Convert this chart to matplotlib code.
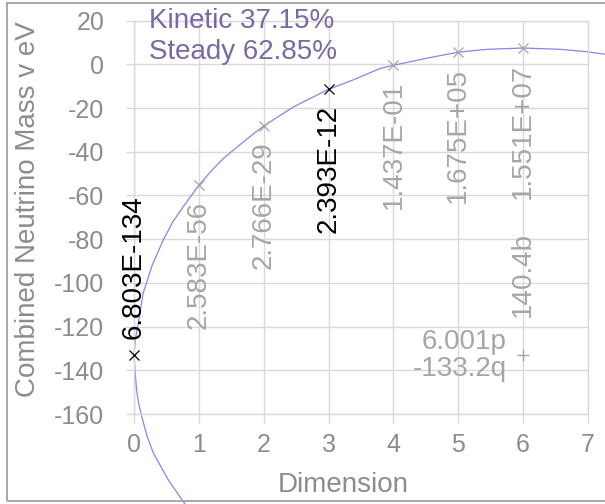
import matplotlib
matplotlib.use("Agg")
import matplotlib.pyplot as plt
from matplotlib.patches import Rectangle

plt.rcParams['font.family'] = ['Liberation Sans', 'DejaVu Sans']
plt.rcParams['axes.unicode_minus'] = False

# ---- data ----
dimension = [0, 1, 2, 3, 4, 5, 6]
mass = [-133.2, -55.3, -28.2, -11.4, -0.4, 5.5, 7.4]
point_labels = ["6.803E-134", "2.583E-56", "2.766E-29", "2.393E-12",
                "1.437E-01", "1.675E+05", "1.551E+07"]
highlight = [True, False, False, True, False, False, False]

# trend curve
curve_x = [0.78, 0.53, 0.30, 0.20, 0.12, 0.07, 0.04, 0.015, 0.0, 0.02, 0.066,
           0.14, 0.28, 0.45, 0.60, 0.76, 1.0, 1.2, 1.38, 1.59, 1.79, 2.0,
           2.46, 3.0, 3.38, 3.8, 4.0, 4.51, 5.0, 5.44, 6.0, 6.57, 6.98, 7.3]
curve_y = [-201, -190.2, -178, -170, -161.2, -155, -149, -140, -133, -126,
           -118.5, -104.8, -92, -80.4, -72, -65.1, -55.3, -48.5, -43, -37.8,
           -33, -28.2, -19.4, -11.4, -7.1, -1.8, -0.4, 2.8, 5.6, 6.9, 7.5,
           6.9, 5.8, 4.5]

extra_x = 6
extra_y = -133.2
extra_side = "6.001p\n-133.2q"
extra_top = "140.4b"

legend_text = "Kinetic 37.15%\nSteady 62.85%"

xticks = [0, 1, 2, 3, 4, 5, 6, 7]
yticks = [20, 0, -20, -40, -60, -80, -100, -120, -140, -160]

# ---- styling ----
GRID = '#D9D9D9'
TICK = '#8C8C8C'
LABEL_GRAY = '#A6A6A6'
PURPLE = '#7B68A6'
CURVE = '#8A84E6'

W, H = 605, 504
fig = plt.figure(figsize=(W / 100, H / 100), dpi=100)
ax = fig.add_axes([134 / W, 1 - 414 / H, (588 - 134) / W, (414 - 20.7) / H])

ax.set_xlim(0, 7)
ax.set_ylim(-160, 20)
ax.set_xticks(xticks)
ax.set_yticks(yticks)
ax.grid(True, color=GRID, linewidth=1.0)
ax.set_axisbelow(True)
for s in ax.spines.values():
    s.set_color(GRID)
    s.set_linewidth(1.0)

ax.tick_params(axis='x', colors=GRID, labelcolor=TICK, labelsize=18,
               length=6.5, width=1.0, pad=7, direction='out')
ax.tick_params(axis='y', colors=GRID, labelcolor=TICK, labelsize=18,
               length=6, width=1.0, pad=15.5, direction='out')

ax.set_xlabel("Dimension", fontsize=20, color=TICK)
ax.xaxis.set_label_coords(0.46, -0.148)
ax.set_ylabel("Combined Neutrino Mass v eV", fontsize=20, color=TICK)
ax.yaxis.set_label_coords(-0.205, 0.52)

# curve
ax.plot(curve_x, curve_y, color=CURVE, linewidth=0.9, clip_on=False, zorder=2)

# markers and labels
for x, y, lab, hl in zip(dimension, mass, point_labels, highlight):
    col = 'black' if hl else LABEL_GRAY
    ax.plot([x], [y], marker='x', color=col, markersize=7.5,
            markeredgewidth=0.9, linestyle='none', zorder=3, clip_on=False)
    if x == 0:
        ax.annotate(lab, (x, y), xytext=(0, 12), textcoords='offset points',
                    rotation=90, ha='center', va='bottom', fontsize=20,
                    color=col, zorder=4)
    else:
        ax.annotate(lab, (x, y), xytext=(0, -11), textcoords='offset points',
                    rotation=90, ha='center', va='top', fontsize=20,
                    color=col, zorder=4)

# extra point
ax.plot([extra_x], [extra_y], marker='+', color=LABEL_GRAY, markersize=8,
        markeredgewidth=1.0, linestyle='none', zorder=3)
ax.annotate(extra_side, (extra_x, extra_y), xytext=(-12, 0),
            textcoords='offset points', ha='right', va='center',
            multialignment='right', fontsize=20, color=LABEL_GRAY,
            linespacing=1.05)
ax.annotate(extra_top, (extra_x, extra_y), xytext=(0, 28),
            textcoords='offset points', rotation=90, ha='center',
            va='bottom', fontsize=20, color=LABEL_GRAY)

# title-like text
fig.text(149 / W, 1 - 8 / H, legend_text, ha='left', va='top', fontsize=20,
         color=PURPLE, linespacing=1.25)

# outer border
fig.patches.append(Rectangle((7 / W, 1 - 501 / H), (620 - 7) / W, (501 - 2.5) / H,
                             transform=fig.transFigure, fill=False,
                             edgecolor='#A0A0A0', linewidth=1.3, zorder=10))

fig.savefig("out.png", dpi=100)
